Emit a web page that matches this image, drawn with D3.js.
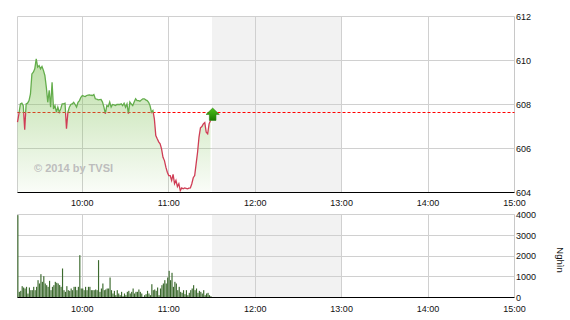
<!DOCTYPE html>
<html>
<head>
<meta charset="utf-8">
<script src="https://cdn.jsdelivr.net/npm/d3@7"></script>
<style>
  html, body { margin: 0; padding: 0; background: #fff; }
  svg text { font-family: "Liberation Sans", Arial, sans-serif; }
</style>
</head>
<body>
<div id="chart"></div>
<script>
// ---------- DATA ----------
const times = [
  "09:15","09:16","09:17","09:18","09:19","09:20","09:21","09:22","09:23","09:24",
  "09:25","09:26","09:27","09:28","09:29","09:30","09:31","09:32","09:33","09:34",
  "09:35","09:36","09:37","09:38","09:39","09:40","09:41","09:42","09:43","09:44",
  "09:45","09:46","09:47","09:48","09:49","09:50","09:51","09:52","09:53","09:54",
  "09:55","09:56","09:57","09:58","09:59","10:00","10:01","10:02","10:03","10:04",
  "10:05","10:06","10:07","10:08","10:09","10:10","10:11","10:12","10:13","10:14",
  "10:15","10:16","10:17","10:18","10:19","10:20","10:21","10:22","10:23","10:24",
  "10:25","10:26","10:27","10:28","10:29","10:30","10:31","10:32","10:33","10:34",
  "10:35","10:36","10:37","10:38","10:39","10:40","10:41","10:42","10:43","10:44",
  "10:45","10:46","10:47","10:48","10:49","10:50","10:51","10:52","10:53","10:54",
  "10:55","10:56","10:57","10:58","10:59","11:00","11:01","11:02","11:03","11:04",
  "11:05","11:06","11:07","11:08","11:09","11:10","11:11","11:12","11:13","11:14",
  "11:15","11:16","11:17","11:18","11:19","11:20","11:21","11:22","11:23","11:24",
  "11:25","11:26","11:27","11:28","11:29"
];
const prices = [
  607.20,607.58,608.03,608.06,607.95,606.85,608.03,608.06,608.18,608.48,
  609.39,609.47,609.62,610.08,609.70,609.77,609.62,609.73,609.55,609.32,
  608.79,608.10,608.64,607.88,609.01,607.80,607.95,607.65,607.88,607.65,
  607.80,608.03,608.03,608.06,606.90,607.65,607.88,608.00,608.03,608.10,
  608.00,607.88,608.10,608.18,608.33,608.41,608.38,608.36,608.41,608.43,
  608.44,608.42,608.41,608.45,608.26,608.24,608.21,608.22,608.23,608.11,
  607.88,607.58,607.95,607.91,608.11,607.88,608.00,607.98,607.95,608.00,
  608.00,608.00,608.03,607.95,608.06,607.88,608.03,607.58,608.11,608.02,
  607.95,608.11,608.26,608.18,608.18,608.15,608.21,608.26,608.26,608.21,
  608.18,608.10,607.95,607.65,607.73,607.35,606.59,606.44,606.30,606.21,
  605.98,605.60,605.45,605.15,604.92,604.77,604.77,604.55,604.82,604.40,
  604.55,604.27,604.40,604.09,604.21,604.17,604.21,604.19,604.17,604.20,
  604.21,604.40,604.67,604.77,605.30,605.83,606.52,606.94,607.00,607.12,
  607.18,606.74,606.67,607.12,607.27
];
const volumes = [
  3970,273,321,546,482,434,514,190,482,353,
  353,514,353,514,835,675,1124,755,1028,675,
  594,514,803,353,514,594,755,707,675,600,
  514,1398,353,273,546,353,321,434,353,514,
  514,353,514,2040,434,434,353,514,353,514,
  514,353,353,353,386,353,1800,273,434,675,
  353,386,434,434,964,353,193,321,112,353,
  193,112,273,64,193,112,273,321,193,273,
  434,193,273,273,386,273,193,32,112,161,
  321,193,112,640,353,386,321,482,112,434,
  594,675,835,675,964,1285,835,1190,514,755,
  675,353,514,273,225,353,161,353,112,225,
  353,434,594,353,434,225,321,273,193,353,
  112,193,225,112,64
];
const referencePrice = 607.62;
const sessionStart = "09:15";
const sessionEnd = "15:00";
const breakStart = "11:30";
const breakEnd = "13:00";
const hourTicks = ["10:00","11:00","12:00","13:00","14:00","15:00"];
const priceTicks = [604,606,608,610,612];
const volumeTicks = [0,1000,2000,3000,4000];
const markerTime = "11:30";
const markerPrice = 607.55;
const watermark = "\u00A9 2014 by TVSI";
const volumeUnit = "Ngh\u00ECn";

// ---------- CHART ----------
const W = 570, H = 320;
const parse = s => { const [h, m] = s.split(":").map(Number); return new Date(2014, 0, 1, h, m); };
const svg = d3.select("#chart").append("svg").attr("width", W).attr("height", H);

const x = d3.scaleTime().domain([parse(sessionStart), parse(sessionEnd)]).range([17.5, 514.5]);
const yP = d3.scaleLinear().domain([604, 612]).range([192.5, 16.5]);
const yV = d3.scaleLinear().domain([0, 4000]).range([297.5, 214.5]);
const snap = v => Math.round(v - 0.5) + 0.5;

const priceData = times.map((t, i) => ({ t: parse(t), v: prices[i] }));
const volData = times.map((t, i) => ({ t: parse(t), v: volumes[i] }));

function panelBackground(yScale, ticks) {
  const top = yScale(ticks[ticks.length - 1]), bot = yScale(ticks[0]);
  const g = svg.append("g");
  g.append("rect")
    .attr("x", x(parse(breakStart))).attr("y", top)
    .attr("width", x(parse(breakEnd)) - x(parse(breakStart)))
    .attr("height", bot - top).attr("fill", "#f2f2f2");
  g.selectAll("line.h").data(ticks.slice(1)).join("line")
    .attr("x1", x.range()[0]).attr("x2", x.range()[1])
    .attr("y1", d => snap(yScale(d))).attr("y2", d => snap(yScale(d)))
    .attr("stroke", "#d0d0d0").attr("stroke-width", 1);
  g.selectAll("line.v").data(hourTicks.slice(0, -1)).join("line")
    .attr("x1", d => snap(x(parse(d)))).attr("x2", d => snap(x(parse(d))))
    .attr("y1", top).attr("y2", bot)
    .attr("stroke", "#d0d0d0").attr("stroke-width", 1);
  g.append("line").attr("x1", x.range()[0]).attr("x2", x.range()[0])
    .attr("y1", top).attr("y2", bot).attr("stroke", "#d0d0d0");
  g.append("line").attr("x1", x.range()[1]).attr("x2", x.range()[1])
    .attr("y1", top).attr("y2", bot).attr("stroke", "#c8c8c8");
  return { top, bot };
}

// ---- price panel ----
const pb = panelBackground(yP, priceTicks);
const yRef = yP(referencePrice);

svg.append("line")
  .attr("x1", x.range()[0]).attr("x2", x.range()[1])
  .attr("y1", snap(yRef)).attr("y2", snap(yRef))
  .attr("stroke", "#ff0000").attr("stroke-width", 1).attr("stroke-dasharray", "3,2");

const defs = svg.append("defs");
const grad = defs.append("linearGradient").attr("id", "areaGrad")
  .attr("gradientUnits", "userSpaceOnUse")
  .attr("x1", 0).attr("x2", 0)
  .attr("y1", yP(d3.max(prices))).attr("y2", pb.bot);
grad.append("stop").attr("offset", "0").attr("stop-color", "#86c45e").attr("stop-opacity", 0.55);
grad.append("stop").attr("offset", "1").attr("stop-color", "#86c45e").attr("stop-opacity", 0.04);

const area = d3.area().x(d => x(d.t)).y0(pb.bot).y1(d => yP(d.v));
svg.append("path").datum(priceData).attr("d", area).attr("fill", "url(#areaGrad)");

defs.append("clipPath").attr("id", "clipUp").append("rect")
  .attr("x", 0).attr("y", 0).attr("width", W).attr("height", yRef);
defs.append("clipPath").attr("id", "clipDown").append("rect")
  .attr("x", 0).attr("y", yRef).attr("width", W).attr("height", H - yRef);

const line = d3.line().x(d => x(d.t)).y(d => yP(d.v));
svg.append("path").datum(priceData).attr("d", line)
  .attr("fill", "none").attr("stroke", "#64ad4c").attr("stroke-width", 1.3)
  .attr("clip-path", "url(#clipUp)");
svg.append("path").datum(priceData).attr("d", line)
  .attr("fill", "none").attr("stroke", "#cf3d55").attr("stroke-width", 1.3)
  .attr("clip-path", "url(#clipDown)");

svg.append("text").attr("x", 34).attr("y", 172)
  .attr("font-size", 11).attr("font-weight", "bold").attr("fill", "#bdbdbd")
  .text(watermark);

svg.append("line").attr("x1", x.range()[0]).attr("x2", x.range()[1])
  .attr("y1", 192.5).attr("y2", 192.5).attr("stroke", "#000").attr("stroke-width", 1.2);

const ag = defs.append("linearGradient").attr("id", "arrowGrad")
  .attr("x1", 0).attr("x2", 0).attr("y1", 0).attr("y2", 1);
ag.append("stop").attr("offset", "0").attr("stop-color", "#4cc21a");
ag.append("stop").attr("offset", "1").attr("stop-color", "#1d7a00");
const mx = x(parse(markerTime)) + 0.7, my = yP(markerPrice);
svg.append("path")
  .attr("d", `M${mx},${my - 6.3} L${mx + 6.6},${my} L${mx + 3.3},${my} L${mx + 3.3},${my + 6} L${mx - 3.3},${my + 6} L${mx - 3.3},${my} L${mx - 6.6},${my} Z`)
  .attr("fill", "url(#arrowGrad)").attr("stroke", "#2a7d12").attr("stroke-width", 0.6);

svg.selectAll("text.pt").data(priceTicks).join("text")
  .attr("x", 516).attr("y", d => yP(d) + 3.3)
  .attr("font-size", 9).attr("fill", "#111").text(d => d);

svg.selectAll("text.t1").data(hourTicks).join("text")
  .attr("x", d => x(parse(d))).attr("y", 206)
  .attr("text-anchor", "middle").attr("font-size", 9).attr("fill", "#111").text(d => d);

// ---- volume panel ----
const vb = panelBackground(yV, volumeTicks);
svg.append("line").attr("x1", x.range()[0]).attr("x2", x.range()[1])
  .attr("y1", vb.top).attr("y2", vb.top).attr("stroke", "#d0d0d0");

svg.selectAll("rect.vol").data(volData).join("rect")
  .attr("x", d => x(d.t) - 0.2).attr("width", 1.15)
  .attr("y", d => yV(d.v)).attr("height", d => yV(0) - yV(d.v))
  .attr("fill", "#3c6a2e");

svg.append("line").attr("x1", x.range()[0]).attr("x2", x.range()[1])
  .attr("y1", 297.5).attr("y2", 297.5).attr("stroke", "#000").attr("stroke-width", 1.2);

svg.selectAll("text.vt").data(volumeTicks).join("text")
  .attr("x", 516).attr("y", d => yV(d) + 3.3)
  .attr("font-size", 9).attr("fill", "#111").text(d => d);

svg.selectAll("text.t2").data(hourTicks).join("text")
  .attr("x", d => x(parse(d))).attr("y", 312)
  .attr("text-anchor", "middle").attr("font-size", 9).attr("fill", "#111").text(d => d);

svg.append("text")
  .attr("transform", `translate(557,${(vb.top + vb.bot) / 2 + 4}) rotate(90)`)
  .attr("text-anchor", "middle").attr("font-size", 9.5).attr("fill", "#111")
  .text(volumeUnit);
</script>
</body>
</html>
